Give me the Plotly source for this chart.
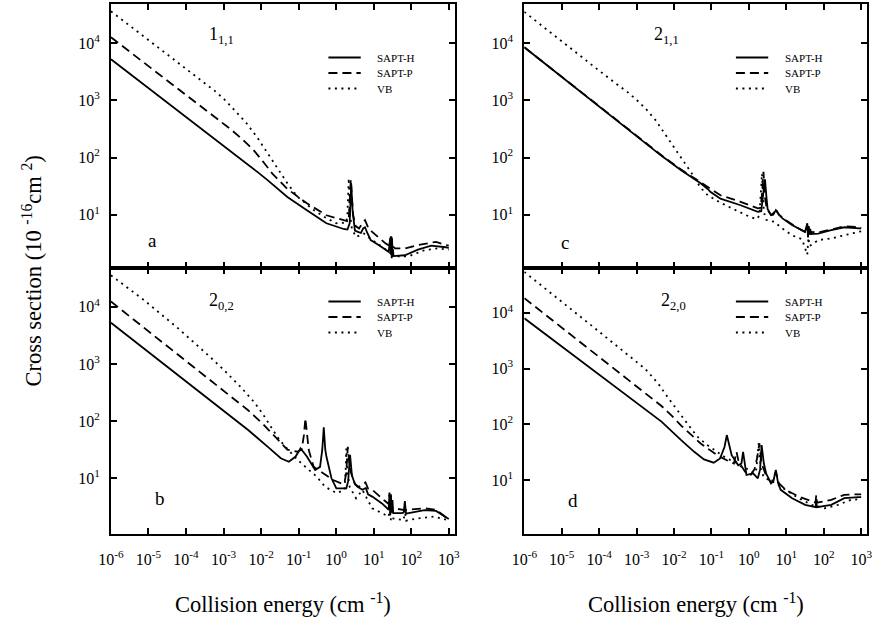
import numpy as np
import plotly.graph_objects as go

W, H = 880, 626
FONT = "Liberation Serif, Times New Roman, serif"

# ---------------------------------------------------------------------------
# Data: energies as log10(E / cm^-1), cross sections as log10(sigma / 1e-16 cm^2)
# ---------------------------------------------------------------------------

# panel a : 1_{1,1}
a_h_logE = [-6, -2.6, -2.35, -2.1, -1.82, -1.30, -0.78, -0.26, 0.20, 0.30, 0.36, 0.40, 0.44, 0.50,
            0.58, 0.66, 0.72, 0.77, 0.83, 0.92, 1.14, 1.40, 1.44, 1.46, 1.47, 1.48, 1.49, 1.50,
            1.51, 1.53, 1.83, 2.18, 2.53, 2.92, 3.0]
a_h_logS = [3.72, 2.01, 1.88, 1.75, 1.60, 1.31, 1.08, 0.85, 0.75, 0.74, 0.85, 1.55, 1.05, 0.72,
            0.70, 0.68, 0.76, 0.78, 0.68, 0.555, 0.467, 0.35, 0.60, 0.30, 0.62, 0.24, 0.58, 0.26,
            0.40, 0.275, 0.29, 0.39, 0.46, 0.43, 0.42]
a_p_logE = [-6, -2.8, -2.5, -2.2, -1.95, -1.70, -1.30, -0.78, -0.26, 0.22, 0.33, 0.39, 0.45, 0.52,
            0.61, 0.70, 0.77, 0.85, 0.96, 1.31, 1.44, 1.46, 1.47, 1.48, 1.49, 1.50, 1.57, 1.83,
            2.18, 2.66, 2.92, 3.0]
a_p_logS = [4.105, 2.49, 2.32, 2.13, 1.93, 1.72, 1.45, 1.20, 0.99, 0.89, 0.88, 1.62, 1.0, 0.80,
            0.76, 0.85, 0.905, 0.78, 0.70, 0.50, 0.45, 0.62, 0.40, 0.60, 0.42, 0.45, 0.41, 0.41,
            0.47, 0.525, 0.47, 0.46]
a_v_logE = [-6, -5, -4, -3.5, -3.2, -2.95, -2.7, -2.4, -2.1, -1.82, -1.56, -1.30, -1.04, -0.6,
            -0.26, 0.0, 0.27, 0.30, 0.335, 0.37, 0.42, 0.53, 0.74, 0.96, 1.22, 1.44, 1.46, 1.48,
            1.50, 1.75, 2.0, 2.36, 2.7, 3.0]
a_v_logS = [4.56, 4.06, 3.56, 3.31, 3.15, 3.00, 2.83, 2.61, 2.35, 2.07, 1.80, 1.55, 1.32, 1.08,
            0.94, 0.85, 0.86, 1.0, 1.64, 1.0, 0.75, 0.61, 0.67, 0.555, 0.44, 0.33, 0.50, 0.25,
            0.29, 0.26, 0.29, 0.38, 0.41, 0.39]

# panel b : 2_{0,2}
b_h_logE = [-6, -2.345, -1.82, -1.475, -1.26, -1.08, -0.95, -0.86, -0.78, -0.56, -0.43, -0.37, -0.33,
            -0.29, -0.26, -0.125, 0.005, 0.27, 0.32, 0.37, 0.42, 0.50, 0.57, 0.70, 0.79, 0.85, 0.96,
            1.22, 1.40, 1.42, 1.44, 1.46, 1.48, 1.50, 1.52, 1.75, 1.80, 1.83, 1.86, 2.0, 2.355,
            2.66, 2.96, 3.0]
b_h_logS = [3.72, 1.845, 1.55, 1.35, 1.29, 1.38, 1.525, 1.45, 1.38, 1.145, 1.20, 1.50, 1.89,
            1.50, 1.38, 1.0, 0.825, 0.825, 0.95, 1.41, 1.05, 0.90, 0.85, 0.80, 0.83, 0.72, 0.68,
            0.56, 0.45, 0.72, 0.35, 0.70, 0.40, 0.62, 0.39, 0.39, 0.40, 0.60, 0.38, 0.40, 0.445,
            0.43, 0.30, 0.29]
b_p_logE = [-6, -2.6, -2.345, -1.95, -1.56, -1.30, -1.04, -0.92, -0.86, -0.82, -0.78, -0.73, -0.60,
            -0.34, -0.08, 0.135, 0.22, 0.27, 0.31, 0.35, 0.40, 0.50, 0.60, 0.72, 0.78, 0.85, 0.96,
            1.27, 1.40, 1.42, 1.44, 1.46, 1.48, 1.53, 1.83, 2.355, 2.66, 2.96, 3.0]
b_p_logS = [4.09, 2.33, 2.19, 1.95, 1.67, 1.50, 1.465, 1.50, 1.75, 2.05, 1.80, 1.495, 1.20,
            1.09, 0.97, 0.91, 0.92, 1.10, 1.55, 1.25, 1.09, 0.90, 0.85, 0.90, 0.93, 0.82, 0.80,
            0.62, 0.55, 0.75, 0.45, 0.72, 0.50, 0.475, 0.445, 0.475, 0.45, 0.30, 0.29]
b_v_logE = [-6, -5.13, -4.26, -3.7, -3.39, -3.0, -2.75, -2.52, -2.17, -1.95, -1.74, -1.52, -1.39,
            -1.04, -0.82, -0.52, -0.30, 0.005, 0.22, 0.25, 0.27, 0.30, 0.36, 0.53, 0.70, 0.96, 1.22,
            1.40, 1.43, 1.46, 1.485, 1.75, 1.80, 1.83, 1.86, 2.18, 2.62, 2.96, 3.0]
b_v_logS = [4.55, 4.12, 3.65, 3.33, 3.14, 2.90, 2.74, 2.58, 2.32, 2.12, 1.90, 1.68, 1.58,
            1.33, 1.20, 1.03, 0.855, 0.74, 0.795, 1.1, 1.52, 1.1, 0.85, 0.65, 0.795, 0.475, 0.39,
            0.33, 0.55, 0.25, 0.30, 0.27, 0.27, 0.45, 0.26, 0.30, 0.33, 0.27, 0.26]

# panel c : 2_{1,1}
c_h_logE = [-6, -2.335, -1.81, -1.29, -1.10, -1.03, -0.76, -0.24, 0.24, 0.33, 0.37, 0.43, 0.47,
            0.50, 0.59, 0.65, 0.72, 0.78, 0.89, 1.15, 1.50, 1.56, 1.58, 1.60, 1.62, 1.64, 1.66,
            1.85, 2.20, 2.55, 2.945, 3.0]
c_h_logS = [3.93, 2.03, 1.78, 1.55, 1.45, 1.40, 1.28, 1.17, 1.05, 1.06, 1.30, 1.62, 1.30,
            1.10, 0.99, 1.00, 1.08, 1.02, 0.94, 0.82, 0.70, 0.85, 0.60, 0.80, 0.65, 0.75, 0.66,
            0.67, 0.73, 0.78, 0.76, 0.76]
c_p_logE = [-6, -2.335, -1.81, -1.43, -1.29, -0.76, -0.24, 0.24, 0.31, 0.35, 0.39, 0.43, 0.48,
            0.59, 0.65, 0.72, 0.80, 0.98, 1.33, 1.52, 1.56, 1.58, 1.60, 1.62, 1.64, 1.85, 2.20,
            2.55, 2.945, 3.0]
c_p_logS = [3.93, 2.04, 1.79, 1.63, 1.57, 1.34, 1.23, 1.11, 1.12, 1.35, 1.75, 1.30, 1.10,
            1.00, 1.02, 1.10, 1.0, 0.905, 0.76, 0.69, 0.82, 0.62, 0.78, 0.66, 0.70, 0.69, 0.74,
            0.80, 0.78, 0.77]
c_v_logE = [-6, -5, -4, -3.5, -3.25, -3.0, -2.75, -2.5, -2.16, -1.81, -1.59, -1.45, -1.30, -1.10,
            -0.76, -0.33, -0.07, 0.20, 0.28, 0.35, 0.40, 0.46, 0.68, 0.89, 1.15, 1.42, 1.56, 1.59,
            1.62, 1.85, 2.20, 2.55, 2.90, 3.0]
c_v_logS = [4.55, 4.03, 3.52, 3.27, 3.15, 3.01, 2.85, 2.66, 2.34, 2.01, 1.80, 1.65, 1.48, 1.34,
            1.21, 1.07, 0.99, 0.92, 0.98, 1.72, 1.05, 0.91, 0.875, 0.76, 0.64, 0.57, 0.30, 0.60,
            0.45, 0.555, 0.585, 0.64, 0.70, 0.71]

# panel d : 2_{2,0}
d_h_logE = [-6, -2.335, -1.81, -1.46, -1.20, -0.94, -0.77, -0.65, -0.59, -0.52, -0.46, -0.285,
            -0.20, -0.155, -0.11, -0.065, 0.11, 0.24, 0.30, 0.34, 0.40, 0.46, 0.59, 0.66, 0.72,
            0.78, 0.85, 1.155, 1.505, 1.78, 1.80, 1.82, 2.20, 2.55, 2.945, 3.0]
d_h_logS = [3.90, 2.05, 1.72, 1.51, 1.375, 1.315, 1.39, 1.60, 1.81, 1.62, 1.45, 1.27,
            1.30, 1.51, 1.25, 1.095, 1.125, 1.035, 1.20, 1.63, 1.30, 1.125, 0.945, 1.0, 1.185,
            0.95, 0.83, 0.68, 0.56, 0.52, 0.62, 0.52, 0.56, 0.68, 0.70, 0.70]
d_p_logE = [-6, -2.6, -2.335, -2.05, -1.81, -1.29, -0.85, -0.59, -0.40, -0.33, -0.28, -0.24, -0.10,
            0.05, 0.15, 0.22, 0.28, 0.34, 0.45, 0.60, 0.72, 0.80, 0.98, 1.33, 1.68, 1.78, 1.80,
            1.82, 2.20, 2.55, 2.945, 3.0]
d_p_logS = [4.26, 2.48, 2.33, 2.15, 1.98, 1.66, 1.45, 1.36, 1.30, 1.51, 1.35, 1.30, 1.15,
            1.10, 1.20, 1.40, 1.66, 1.30, 1.10, 0.95, 1.155, 0.95, 0.83, 0.71, 0.62, 0.60, 0.74,
            0.60, 0.65, 0.74, 0.75, 0.75]
d_v_logE = [-6, -5, -4, -3.3, -3.0, -2.78, -2.55, -2.39, -2.16, -1.90, -1.64, -1.375, -1.11, -0.85,
            -0.59, -0.37, -0.20, 0.02, 0.15, 0.20, 0.26, 0.32, 0.40, 0.545, 0.72, 0.98, 1.33, 1.68,
            2.03, 2.38, 2.72, 2.945, 3.0]
d_v_logS = [4.73, 4.20, 3.66, 3.28, 3.12, 3.00, 2.83, 2.70, 2.48, 2.24, 2.01, 1.78, 1.63, 1.51,
            1.39, 1.33, 1.245, 1.185, 1.125, 1.2, 1.66, 1.2, 1.05, 1.005, 0.945, 0.83, 0.68, 0.56,
            0.50, 0.56, 0.65, 0.66, 0.66]

series_names = ["SAPT-H", "SAPT-P", "VB"]
panel_titles = {"a": "1<sub>1,1</sub>", "b": "2<sub>0,2</sub>",
                "c": "2<sub>1,1</sub>", "d": "2<sub>2,0</sub>"}

x_tick_exp = [-6, -5, -4, -3, -2, -1, 0, 1, 2, 3]
y_tick_exp = [1, 2, 3, 4]

# ---------------------------------------------------------------------------
# Figure
# ---------------------------------------------------------------------------

def px(x):
    return x / W


def py(y):
    return 1 - y / H


styles = [dict(color="black", width=1.8),
          dict(color="black", width=1.8, dash="9px,5px"),
          dict(color="black", width=1.8, dash="2px,4.5px")]

panels = {
    # key: (xaxis id, yaxis id, data, y range in log10, pixel box)
    "a": ("x", "y", [(a_h_logE, a_h_logS), (a_p_logE, a_p_logS), (a_v_logE, a_v_logS)],
          [0.067, 4.688], (100, 451, 4, 268)),
    "c": ("x2", "y2", [(c_h_logE, c_h_logS), (c_p_logE, c_p_logS), (c_v_logE, c_v_logS)],
          [0.067, 4.688], (522, 872, 4, 268)),
    "b": ("x3", "y3", [(b_h_logE, b_h_logS), (b_p_logE, b_p_logS), (b_v_logE, b_v_logS)],
          [0.026, 4.677], (100, 451, 268, 534)),
    "d": ("x4", "y4", [(d_h_logE, d_h_logS), (d_p_logE, d_p_logS), (d_v_logE, d_v_logS)],
          [0.039, 4.80], (522, 872, 268, 534)),
}

fig = go.Figure()

for key, (xa, ya, data, yr, box) in panels.items():
    for (le, ls), name, st in zip(data, series_names, styles):
        fig.add_trace(go.Scatter(
            x=np.power(10.0, le), y=np.power(10.0, ls), mode="lines",
            name=name, line=st, xaxis=xa, yaxis=ya, showlegend=False,
            hoverinfo="skip"))

axis_common = dict(
    type="log", showline=True, linecolor="black", linewidth=2, mirror="ticks",
    ticks="inside", ticklen=6, tickwidth=1.5, tickcolor="black",
    showgrid=False, zeroline=False,
    tickfont=dict(family=FONT, size=16, color="black"),
)

layout_axes = {}
for key, (xa, ya, data, yr, box) in panels.items():
    x0, x1, y0, y1 = box
    xname = "xaxis" + xa[1:]
    yname = "yaxis" + ya[1:]
    bottom = key in ("b", "d")
    layout_axes[xname] = dict(
        axis_common, domain=[px(x0), px(x1)], anchor=ya, range=[-6, 3.16],
        tickvals=[10.0 ** e for e in x_tick_exp],
        ticktext=["10<sup>%d</sup>" % e for e in x_tick_exp],
        showticklabels=bottom, ticklabelstandoff=10)
    layout_axes[yname] = dict(
        axis_common, domain=[py(y1), py(y0)], anchor=xa, range=yr,
        tickvals=[10.0 ** e for e in y_tick_exp],
        ticktext=["10<sup>%d</sup>" % e for e in y_tick_exp],
        ticklabelstandoff=6)

annotations = []
shapes = []

title_pos = {"a": (198, 36), "c": (652, 36), "b": (198, 301), "d": (659, 301)}
letter_pos = {"a": (142, 240), "c": (564, 242), "b": (150, 498), "d": (572, 500)}
legend_pos = {"a": (322, 57.5), "c": (738, 57.5), "b": (322, 301.5), "d": (738, 301.5)}

for key in panels:
    tx, ty = title_pos[key]
    annotations.append(dict(text=panel_titles[key], x=px(tx), y=py(ty), xref="paper", yref="paper",
                            xanchor="left", yanchor="middle", showarrow=False,
                            font=dict(family=FONT, size=18, color="black")))
    lx, ly = letter_pos[key]
    annotations.append(dict(text=key, x=px(lx), y=py(ly), xref="paper", yref="paper",
                            xanchor="center", yanchor="middle", showarrow=False,
                            font=dict(family=FONT, size=19, color="black")))
    gx, gy = legend_pos[key]
    for i, (name, st) in enumerate(zip(series_names, styles)):
        yy = gy + i * 15.5
        shapes.append(dict(type="line", xref="paper", yref="paper",
                           x0=px(gx), x1=px(gx + 33), y0=py(yy), y1=py(yy),
                           line=dict(color="black", width=st["width"], dash=st.get("dash", "solid"))))
        annotations.append(dict(text=name, x=px(gx + 48), y=py(yy), xref="paper", yref="paper",
                                xanchor="left", yanchor="middle", showarrow=False,
                                font=dict(family=FONT, size=11, color="black")))

# axis titles
annotations.append(dict(text="Cross section (10 <sup>-16</sup>cm <sup>2</sup>)",
                        x=px(19), y=py(271), xref="paper", yref="paper", textangle=-90,
                        xanchor="center", yanchor="middle", showarrow=False,
                        font=dict(family=FONT, size=22.5, color="black")))
for cx in (276, 697):
    annotations.append(dict(text="Collision energy (cm <sup>-1</sup>)",
                            x=px(cx), y=py(603), xref="paper", yref="paper",
                            xanchor="center", yanchor="middle", showarrow=False,
                            font=dict(family=FONT, size=22.5, color="black")))

fig.update_layout(
    width=W, height=H, margin=dict(l=0, r=0, t=0, b=0),
    paper_bgcolor="white", plot_bgcolor="white",
    font=dict(family=FONT, color="black"),
    annotations=annotations, shapes=shapes, showlegend=False,
    **layout_axes,
)

fig.write_html("out.html")
